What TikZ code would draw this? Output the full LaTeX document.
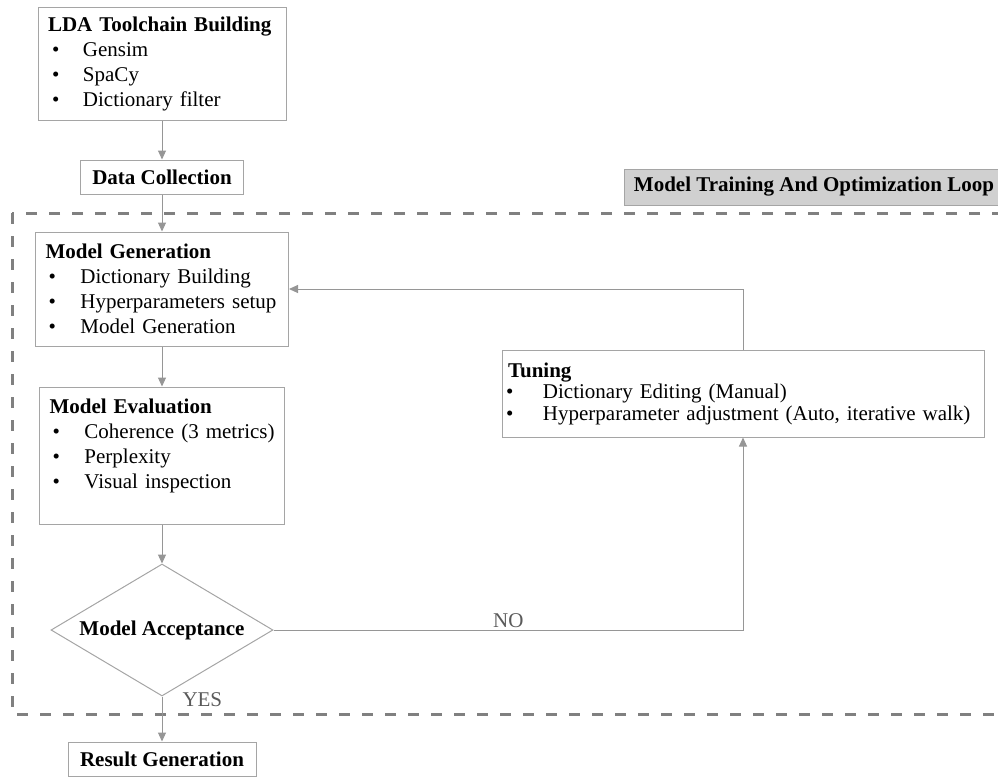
\documentclass[tikz,border=0pt]{standalone}
\usepackage{fontspec}
\setmainfont{Liberation Serif}
\usetikzlibrary{arrows.meta, shapes.geometric}

\definecolor{linegray}{RGB}{150,150,150}
\definecolor{boxgray}{RGB}{165,165,165}
\definecolor{dashgray}{RGB}{128,128,128}
\definecolor{labelfill}{RGB}{208,208,208}
\definecolor{textgray}{RGB}{90,90,90}
% bullet line inside a box
\newcommand{\bul}[2][3pt]{\\\hspace*{#1}\makebox[\dimexpr 35pt-#1\relax][l]{\textbullet}\mbox{#2}}

\begin{document}
\begin{tikzpicture}[x=1pt, y=-1pt,
  font=\fontsize{21}{25}\selectfont,
  stepbox/.style={draw=boxgray, line width=1pt, align=left, inner xsep=10pt, inner ysep=0pt},
  flow/.style={draw=linegray, line width=1pt, -{Triangle[length=9pt,width=8pt]}},
  tag/.style={text=textgray, inner sep=0pt}]
\useasboundingbox (0,0) rectangle (998,776);
% Loop frame
\draw[dashgray, line width=3pt, dash pattern=on 11pt off 12pt] (12,213) rectangle (1030,714);
\node[draw=boxgray, fill=labelfill, line width=1pt, minimum width=380pt, minimum height=36pt, inner sep=0pt] (looplabel) at (814,187) {\textbf{Model Training And Optimization Loop}};
% Left column
\node[stepbox, text width=228pt, minimum height=112pt] (toolchain) at (162,64)
  {\textbf{LDA Toolchain Building}\bul[4pt]{Gensim}\bul[4pt]{SpaCy}\bul[4pt]{Dictionary filter}};
\node[stepbox, minimum width=163pt, minimum height=34pt] (collection) at (162,177) {\textbf{Data Collection}};
\node[stepbox, text width=233pt, minimum height=114pt] (generation) at (162,289)
  {\textbf{Model Generation}\bul{Dictionary Building}\bul{Hyperparameters setup}\bul{Model Generation}};
\node[stepbox, text width=225pt, minimum height=137pt] (evaluation) at (162,455.5)
  {\textbf{Model Evaluation}\bul{Coherence (3 metrics)}\bul{Perplexity}\bul{Visual inspection}\\[-2pt]\mbox{}};
\node[draw=boxgray, line width=1pt, diamond, aspect=1.68, minimum width=222pt, minimum height=132pt, inner sep=0pt] (acceptance) at (162,630) {\textbf{Model Acceptance}};
\node[stepbox, minimum width=188pt, minimum height=34pt] (result) at (162,759) {\textbf{Result Generation}};
% Right column
\node[stepbox, inner xsep=6pt, text width=470pt, minimum height=87pt, font=\fontsize{21}{21.5}\selectfont] (tuning) at (743,393.5)
  {\textbf{Tuning}\bul[-2pt]{Dictionary Editing (Manual)}\bul[-2pt]{Hyperparameter adjustment (Auto, iterative walk)}};
% Connectors
\draw[flow] (toolchain) -- (collection);
\draw[flow] (collection) -- (generation);
\draw[flow] (generation) -- (evaluation);
\draw[flow] (evaluation) -- (acceptance);
\draw[flow] (acceptance) -- node[tag, pos=0.07, anchor=west, xshift=20pt] {YES} (result);
\draw[flow] (acceptance.east) -- node[tag, above=2pt] {NO} (acceptance.east -| tuning.south) -- (tuning.south);
\draw[flow] (tuning.north) -- (tuning.north |- generation.east) -- (generation.east);
\end{tikzpicture}
\end{document}
